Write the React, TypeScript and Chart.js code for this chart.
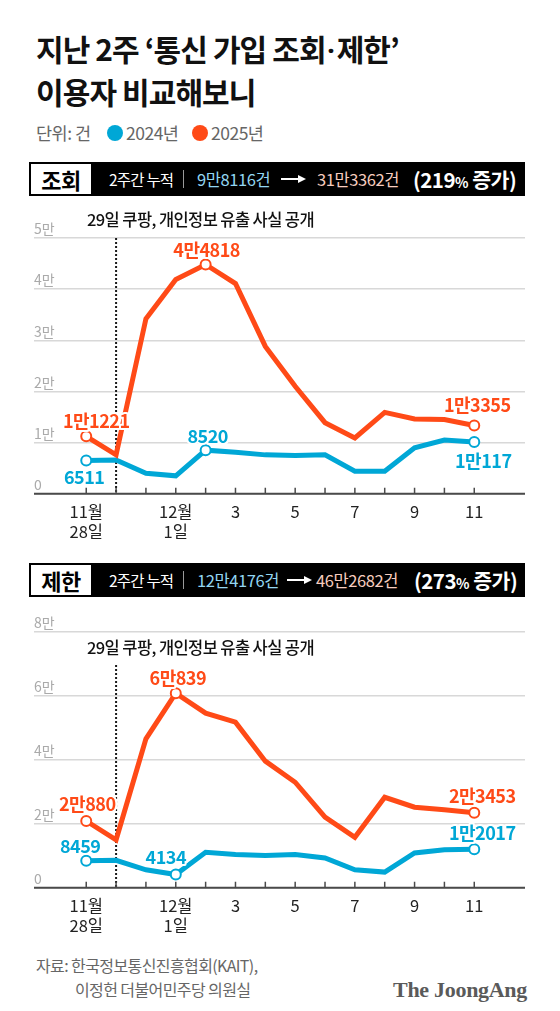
import React, { useEffect, useRef } from 'react';
import { Chart, registerables } from 'chart.js';

Chart.register(...registerables);

const KR = '"Noto Sans CJK KR", "Noto Sans", sans-serif';
const BLUE = '#00a7d6';
const ORANGE = '#ff4a17';

// ---- data ----
const dates = ['11/28', '11/29', '11/30', '12/1', '12/2', '12/3', '12/4', '12/5', '12/6', '12/7', '12/8', '12/9', '12/10', '12/11'];
const xTickLabels: (string | string[])[] = [['11월', '28일'], '', '', ['12월', '1일'], '', '3', '', '5', '', '7', '', '9', '', '11'];
const eventDateIndex = 1; // 11/29
const noteText = '29일 쿠팡, 개인정보 유출 사실 공개';

const lookup2024 = [6511, 6600, 4000, 3500, 8520, 8100, 7600, 7500, 7600, 4400, 4400, 9000, 10500, 10117];
const lookup2025 = [11221, 7600, 34200, 41900, 44818, 41100, 28800, 21000, 13900, 10900, 15900, 14600, 14500, 13355];
const lookupYTicks = ['0', '1만', '2만', '3만', '4만', '5만'];
const lookupStep = 10000;

const block2024 = [8459, 8600, 5600, 4134, 11100, 10400, 10100, 10400, 9300, 5600, 4900, 10900, 11900, 12017];
const block2025 = [20880, 15000, 46600, 60839, 54600, 51800, 39600, 33000, 22100, 15800, 28300, 25200, 24400, 23453];
const blockYTicks = ['0', '2만', '4만', '6만', '8만'];
const blockStep = 20000;

const lookupTotals = ['9만8116건', '31만3362건', '219'];
const blockTotals = ['12만4176건', '46만2682건', '273'];

type LabelSpec = { ds: number; idx: number; dx: number; dy: number };

function fmt(v: number) {
  return v >= 10000 ? `${Math.floor(v / 10000)}만${v % 10000}` : String(v);
}

interface LineChartProps {
  d2024: number[];
  d2025: number[];
  yStep: number;
  yTicks: string[];
  marks2024: number[];
  marks2025: number[];
  labels: LabelSpec[];
  noteDy: number;
  dotDy: number;
}

function LineChart({ d2024, d2025, yStep, yTicks, marks2024, marks2025, labels, noteDy, dotDy }: LineChartProps) {
  const ref = useRef<HTMLCanvasElement>(null);
  useEffect(() => {
    const canvas = ref.current!;
    const decor = {
      id: 'decor',
      beforeDatasetsDraw(chart: any) {
        const { ctx, chartArea, scales } = chart;
        const px = scales.x.getPixelForValue(eventDateIndex);
        ctx.save();
        ctx.strokeStyle = '#1a1a1a';
        ctx.lineWidth = 2;
        ctx.setLineDash([2, 2]);
        ctx.beginPath();
        ctx.moveTo(px, chartArea.top + dotDy);
        ctx.lineTo(px, chartArea.bottom);
        ctx.stroke();
        ctx.restore();
      },
      afterDatasetsDraw(chart: any) {
        const { ctx, chartArea, scales } = chart;
        const xs = scales.x;
        ctx.save();
        ctx.strokeStyle = '#4a4a4a';
        ctx.lineWidth = 2;
        ctx.beginPath();
        ctx.moveTo(chartArea.left, chartArea.bottom);
        ctx.lineTo(chartArea.right, chartArea.bottom);
        ctx.stroke();
        ctx.lineWidth = 1.5;
        xs.ticks.forEach((t: any) => {
          const p = xs.getPixelForValue(t.value);
          ctx.beginPath();
          ctx.moveTo(p, chartArea.bottom);
          ctx.lineTo(p, chartArea.bottom - 6);
          ctx.stroke();
        });
        ctx.fillStyle = '#111';
        ctx.font = `500 16.5px ${KR}`;
        ctx.textBaseline = 'middle';
        ctx.textAlign = 'left';
        ctx.letterSpacing = '-0.6px';
        ctx.fillText(noteText, chartArea.left + 53, chartArea.top + noteDy);
        ctx.font = `bold 18px ${KR}`;
        ctx.textAlign = 'center';
        ctx.letterSpacing = '-0.5px';
        labels.forEach((l) => {
          const meta = chart.getDatasetMeta(l.ds);
          const pt = meta.data[l.idx];
          const ds = chart.data.datasets[l.ds];
          const txt = fmt(ds.data[l.idx].y);
          const x = pt.x + l.dx;
          const y = pt.y + l.dy;
          ctx.lineWidth = 4;
          ctx.strokeStyle = '#fff';
          ctx.lineJoin = 'round';
          ctx.strokeText(txt, x, y);
          ctx.fillStyle = ds.borderColor;
          ctx.fillText(txt, x, y);
        });
        ctx.restore();
      },
    };
    const mk = (arr: number[]) => arr.map((v, i) => ({ x: i, y: v }));
    const chart = new Chart(canvas, {
      type: 'line',
      data: {
        datasets: [
          {
            label: '2025년',
            data: mk(d2025),
            borderColor: ORANGE,
            borderWidth: 5,
            pointRadius: (c: any) => (marks2025.includes(c.dataIndex) ? 5 : 0),
            pointBackgroundColor: '#fff',
            pointBorderColor: ORANGE,
            pointBorderWidth: 2,
            tension: 0,
          },
          {
            label: '2024년',
            data: mk(d2024),
            borderColor: BLUE,
            borderWidth: 5,
            pointRadius: (c: any) => (marks2024.includes(c.dataIndex) ? 5 : 0),
            pointBackgroundColor: '#fff',
            pointBorderColor: BLUE,
            pointBorderWidth: 2,
            tension: 0,
          },
        ],
      } as any,
      options: {
        animation: false,
        responsive: true,
        maintainAspectRatio: false,
        layout: { padding: { left: 34, right: 35, top: 38, bottom: 3 } },
        plugins: { legend: { display: false }, tooltip: { enabled: false } },
        scales: {
          x: {
            type: 'linear',
            min: -1.75,
            max: 14.7,
            afterBuildTicks: (s: any) => {
              s.ticks = dates.map((_, i) => ({ value: i }));
            },
            grid: { display: false, drawTicks: false },
            border: { display: false },
            ticks: {
              autoSkip: false,
              maxRotation: 0,
              padding: 8,
              color: '#222',
              font: { family: KR, size: 16.5, lineHeight: 1.22 },
              callback: (_v: any, i: number) => xTickLabels[i] ?? '',
            },
          },
          y: {
            min: 0,
            max: yStep * (yTicks.length - 1),
            ticks: {
              stepSize: yStep,
              mirror: true,
              padding: 0,
              labelOffset: -9,
              color: '#aaa',
              font: { family: KR, size: 14 },
              callback: (v: any) => yTicks[Math.round(Number(v) / yStep)] ?? '',
            },
            grid: { color: '#d8d8d8', lineWidth: 1.5, drawTicks: false },
            border: { display: false },
          },
        },
      } as any,
      plugins: [decor],
    });
    return () => chart.destroy();
  }, []);
  return <canvas ref={ref} />;
}

function Arrow({ left }: { left: number }) {
  return (
    <div style={{ position: 'absolute', left, top: 16, width: 24, height: 2 }}>
      <div style={{ position: 'absolute', left: 0, top: 0, width: 18, height: 1.5, background: '#fff' }} />
      <div
        style={{
          position: 'absolute',
          left: 17,
          top: -3.5,
          width: 0,
          height: 0,
          borderTop: '4px solid transparent',
          borderBottom: '4px solid transparent',
          borderLeft: '8px solid #fff',
        }}
      />
    </div>
  );
}

function Header({ top, tag, totals, beforeLeft, arrowLeft, afterLeft, pctLeft }: any) {
  const base: React.CSSProperties = { position: 'absolute', top: 0, height: 34, lineHeight: '34px', whiteSpace: 'nowrap' };
  return (
    <div style={{ position: 'absolute', left: 29, top, width: 496, height: 34, background: '#000', fontFamily: KR }}>
      <div
        style={{
          position: 'absolute',
          left: 2,
          top: 2,
          width: 60,
          height: 30,
          background: '#fff',
          lineHeight: '30px',
          textAlign: 'center',
          fontWeight: 700,
          fontSize: 22,
          color: '#000',
          letterSpacing: -0.5,
        }}
      >
        {tag}
      </div>
      <div style={{ ...base, left: 80, color: '#fff', fontSize: 15.5, letterSpacing: -0.8 }}>2주간 누적</div>
      <div style={{ position: 'absolute', left: 154, top: 8, width: 1, height: 18, background: '#999' }} />
      <div style={{ ...base, left: beforeLeft, color: '#92d6f2', fontSize: 16.5, letterSpacing: -0.4 }}>{totals[0]}</div>
      <Arrow left={arrowLeft} />
      <div style={{ ...base, left: afterLeft, color: '#f7cdbf', fontSize: 16.5, letterSpacing: -0.4 }}>{totals[1]}</div>
      <div style={{ ...base, left: pctLeft, color: '#fff', fontSize: 20.5, fontWeight: 700, letterSpacing: -0.5 }}>
        ({totals[2]}
        <span style={{ fontSize: 14 }}>%</span> 증가)
      </div>
    </div>
  );
}

export default function App() {
  useEffect(() => {
    document.body.style.margin = '0';
  }, []);
  const dot = (left: number, color: string): React.CSSProperties => ({
    position: 'absolute',
    left,
    top: 125,
    width: 16,
    height: 16,
    borderRadius: 8,
    background: color,
  });
  const legendText: React.CSSProperties = {
    position: 'absolute',
    top: 122,
    fontSize: 17.5,
    lineHeight: '22px',
    color: '#666',
    letterSpacing: -0.5,
    whiteSpace: 'nowrap',
  };
  const mid: React.CSSProperties = { fontFamily: 'Roboto, "Noto Sans", sans-serif', letterSpacing: 0, margin: '0 1px' };
  return (
    <div style={{ position: 'relative', width: 560, height: 1011, background: '#fff', fontFamily: KR, overflow: 'hidden' }}>
      <div
        style={{
          position: 'absolute',
          left: 36,
          top: 28,
          fontSize: 30,
          lineHeight: '41px',
          fontWeight: 700,
          color: '#111',
          letterSpacing: -0.9,
          whiteSpace: 'nowrap',
        }}
      >
        <div>
          지난 2주 ‘통신 가입 조회<span style={mid}>·</span>제한’
        </div>
        <div>이용자 비교해보니</div>
      </div>
      <div style={{ ...legendText, left: 36 }}>단위: 건</div>
      <div style={dot(107, BLUE)} />
      <div style={{ ...legendText, left: 126 }}>2024년</div>
      <div style={dot(192, ORANGE)} />
      <div style={{ ...legendText, left: 211 }}>2025년</div>

      <Header top={162} tag="조회" totals={lookupTotals} beforeLeft={168} arrowLeft={252} afterLeft={288} pctLeft={384} />
      <div style={{ position: 'absolute', left: 0, top: 200, width: 560, height: 353 }}>
        <LineChart
          d2024={lookup2024}
          d2025={lookup2025}
          yStep={lookupStep}
          yTicks={lookupYTicks}
          marks2024={[0, 4, 13]}
          marks2025={[0, 4, 13]}
          labels={[
            { ds: 0, idx: 0, dx: 10, dy: -15 },
            { ds: 1, idx: 0, dx: -2, dy: 17 },
            { ds: 0, idx: 4, dx: 1, dy: -14 },
            { ds: 1, idx: 4, dx: 2, dy: -14 },
            { ds: 0, idx: 13, dx: 3, dy: -20 },
            { ds: 1, idx: 13, dx: 9, dy: 19 },
          ]}
          noteDy={-18}
          dotDy={0}
        />
      </div>

      <Header top={563} tag="제한" totals={blockTotals} beforeLeft={168} arrowLeft={258} afterLeft={287} pctLeft={385} />
      <div style={{ position: 'absolute', left: 0, top: 594, width: 560, height: 353 }}>
        <LineChart
          d2024={block2024}
          d2025={block2025}
          yStep={blockStep}
          yTicks={blockYTicks}
          marks2024={[0, 3, 13]}
          marks2025={[0, 3, 13]}
          labels={[
            { ds: 0, idx: 0, dx: 1, dy: -17 },
            { ds: 1, idx: 0, dx: -6, dy: -15 },
            { ds: 0, idx: 3, dx: 2, dy: -15 },
            { ds: 1, idx: 3, dx: -10, dy: -17 },
            { ds: 0, idx: 13, dx: 8, dy: -17 },
            { ds: 1, idx: 13, dx: 8, dy: -16 },
          ]}
          noteDy={16}
          dotDy={33}
        />
      </div>

      <div
        style={{
          position: 'absolute',
          left: 36,
          top: 953,
          fontSize: 16,
          lineHeight: '24px',
          color: '#666',
          letterSpacing: -0.6,
          whiteSpace: 'nowrap',
        }}
      >
        <div>자료: 한국정보통신진흥협회(KAIT),</div>
        <div style={{ paddingLeft: 39 }}>이정헌 더불어민주당 의원실</div>
      </div>
      <div
        style={{
          position: 'absolute',
          right: 33,
          top: 976,
          fontFamily: '"Liberation Serif", "DejaVu Serif", serif',
          fontWeight: 700,
          fontSize: 22,
          lineHeight: '28px',
          color: '#5a5a5a',
          letterSpacing: -0.3,
          whiteSpace: 'nowrap',
        }}
      >
        The JoongAng
      </div>
    </div>
  );
}
